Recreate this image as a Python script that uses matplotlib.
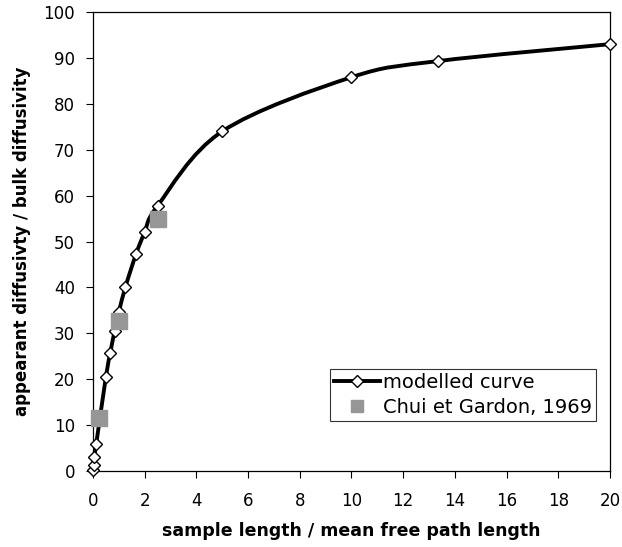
import numpy as np
import matplotlib.pyplot as plt
from matplotlib.path import Path
from matplotlib.patches import PathPatch
from matplotlib.lines import Line2D

# modelled curve
model_x = [0, 0.02, 0.05, 0.125, 0.5, 0.667, 0.833, 1.0, 1.25, 1.667, 2.0, 2.5, 5, 10, 13.33, 20]
model_y = [0.3, 1.3, 3.1, 5.9, 20.5, 25.7, 30.4, 34.6, 40.0, 47.3, 52.0, 57.8, 74.0, 85.8, 89.3, 93.0]

# measured data
chui_x = [0.25, 1.0, 2.5]
chui_y = [11.5, 32.7, 55.0]

xticks = list(range(0, 21, 2))
yticks = list(range(0, 101, 10))

plt.rcParams['font.family'] = ['DejaVu Sans']

fig = plt.figure(figsize=(6.22, 5.47), dpi=100)
ax = fig.add_axes([0.1495, 0.139, 0.8312, 0.839])


def smooth_path(xs, ys):
    # excel-like smoothed line: cubic bezier through the points
    pts = np.column_stack([xs, ys]).astype(float)
    verts = [pts[0]]
    codes = [Path.MOVETO]
    n = len(pts)
    for i in range(n - 1):
        p0 = pts[i - 1] if i > 0 else pts[i]
        p1 = pts[i]
        p2 = pts[i + 1]
        p3 = pts[i + 2] if i + 2 < n else pts[i + 1]
        c1 = p1 + (p2 - p0) / 6.0
        c2 = p2 - (p3 - p1) / 6.0
        verts += [c1, c2, p2]
        codes += [Path.CURVE4] * 3
    return Path(verts, codes)


patch = PathPatch(smooth_path(model_x, model_y), facecolor='none', edgecolor='black',
                  linewidth=2.8, clip_on=False, zorder=3)
ax.add_patch(patch)
ax.plot(model_x, model_y, linestyle='none', marker='D', markersize=6.5,
        markerfacecolor='white', markeredgecolor='black', markeredgewidth=1.0,
        clip_on=False, zorder=4)
ax.plot(chui_x, chui_y, linestyle='none', marker='s', markersize=11.5,
        color='#969696', clip_on=False, zorder=5)

ax.set_xlim(0, 20)
ax.set_ylim(0, 100)
ax.set_xticks(xticks)
ax.set_yticks(yticks)
ax.tick_params(direction='out', length=5, width=0.8, labelsize=12, pad=8)
ax.tick_params(axis='x', pad=10)
for s in ax.spines.values():
    s.set_linewidth(0.9)

ax.set_xlabel('sample length / mean free path length', fontsize=12.5, fontweight='bold', labelpad=9)
ax.set_ylabel('appearant diffusivty / bulk diffusivity', fontsize=12, fontweight='bold', labelpad=9)

handles = [
    Line2D([], [], color='black', linewidth=2.8, marker='D', markersize=6.5,
           markerfacecolor='white', markeredgecolor='black'),
    Line2D([], [], linestyle='none', marker='s', markersize=8.5, color='#969696'),
]
leg = ax.legend(handles, ['modelled curve', 'Chui et Gardon, 1969'],
                loc='lower right', bbox_to_anchor=(0.973, 0.109), fontsize=14,
                frameon=True, fancybox=False, edgecolor='black', borderpad=0.2,
                handlelength=2.4, handletextpad=0.15, labelspacing=0.3, borderaxespad=0)
leg.get_frame().set_linewidth(0.8)

fig.savefig('out.png', dpi=100)
